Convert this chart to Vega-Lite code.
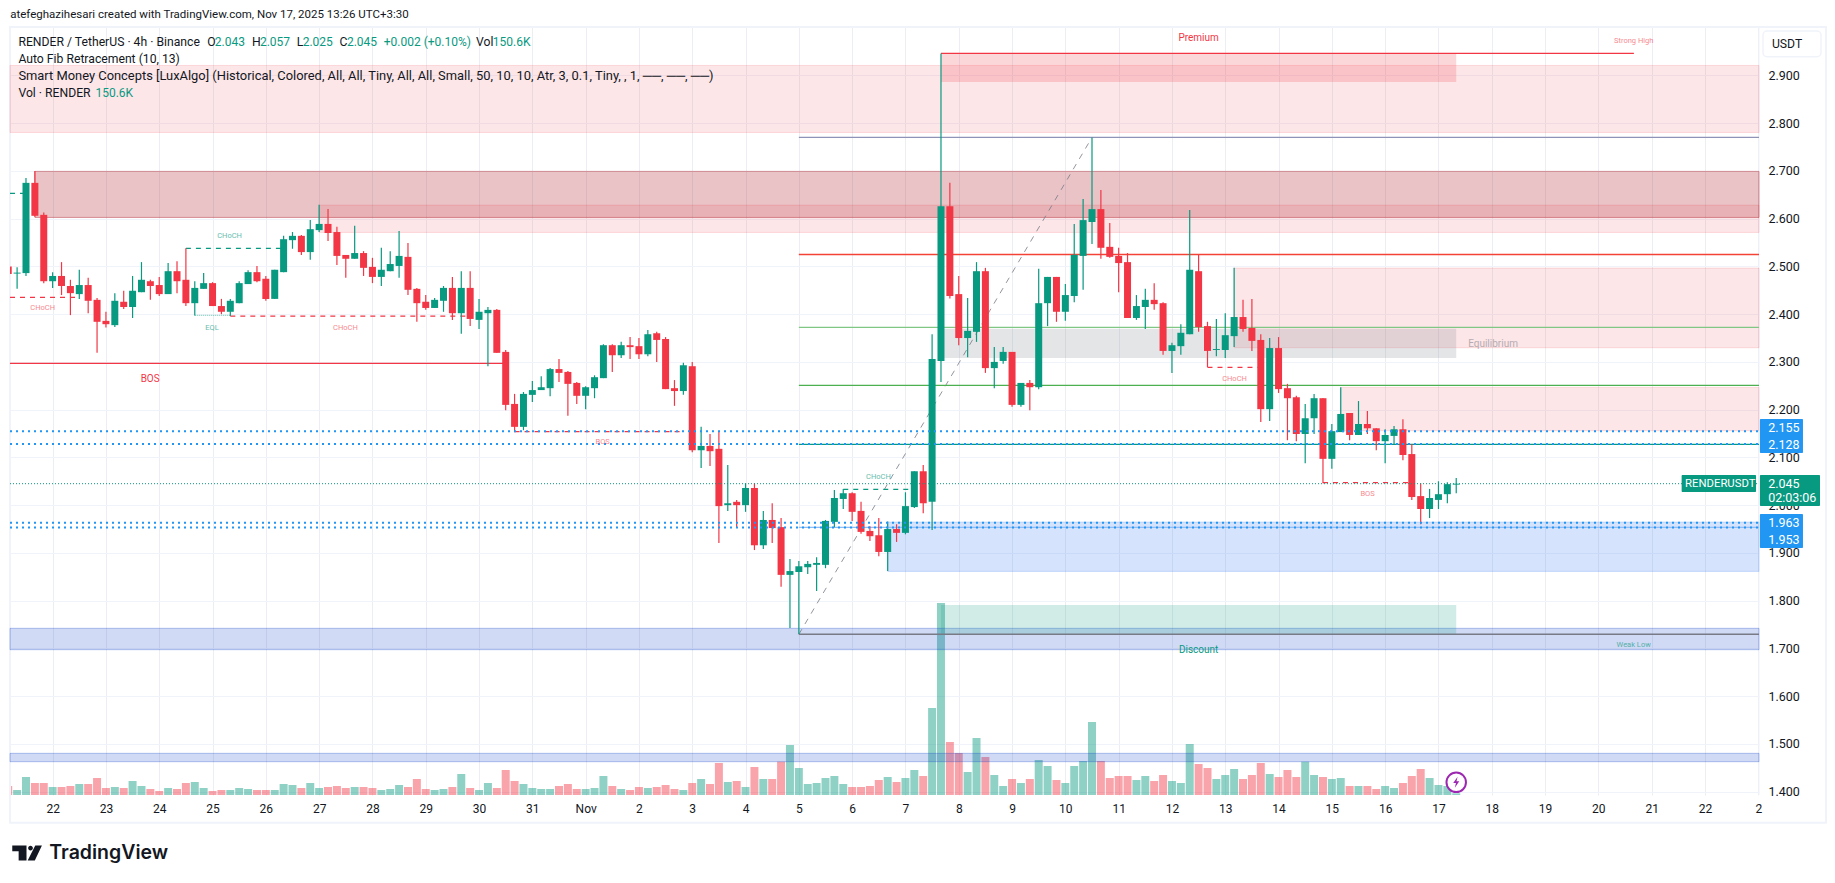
{"$schema":"https://vega.github.io/schema/vega-lite/v6.json","width":1749,"height":768,"autosize":"none","padding":{"left":10,"top":27,"right":76,"bottom":88},"background":"#ffffff","config":{"view":{"stroke":null},"text":{"font":"Roboto"}},"datasets":{"candles":[
{"t":"2025-10-21T07:30Z","o":2.5,"h":2.505,"l":2.48,"c":2.484,"v":810},
{"t":"2025-10-21T11:30Z","o":2.485,"h":2.498,"l":2.453,"c":2.487,"v":450},
{"t":"2025-10-21T15:30Z","o":2.486,"h":2.685,"l":2.48,"c":2.675,"v":1620},
{"t":"2025-10-21T19:30Z","o":2.675,"h":2.7,"l":2.604,"c":2.606,"v":1080},
{"t":"2025-10-21T23:30Z","o":2.608,"h":2.613,"l":2.465,"c":2.469,"v":1080},
{"t":"2025-10-22T03:30Z","o":2.469,"h":2.488,"l":2.455,"c":2.48,"v":720},
{"t":"2025-10-22T07:30Z","o":2.48,"h":2.509,"l":2.44,"c":2.459,"v":720},
{"t":"2025-10-22T11:30Z","o":2.459,"h":2.472,"l":2.398,"c":2.444,"v":810},
{"t":"2025-10-22T15:30Z","o":2.442,"h":2.493,"l":2.432,"c":2.461,"v":990},
{"t":"2025-10-22T19:30Z","o":2.461,"h":2.476,"l":2.402,"c":2.428,"v":990},
{"t":"2025-10-22T23:30Z","o":2.43,"h":2.434,"l":2.319,"c":2.384,"v":1530},
{"t":"2025-10-23T03:30Z","o":2.386,"h":2.405,"l":2.372,"c":2.379,"v":630},
{"t":"2025-10-23T07:30Z","o":2.377,"h":2.444,"l":2.373,"c":2.428,"v":720},
{"t":"2025-10-23T11:30Z","o":2.426,"h":2.449,"l":2.411,"c":2.415,"v":630},
{"t":"2025-10-23T15:30Z","o":2.415,"h":2.48,"l":2.392,"c":2.449,"v":1260},
{"t":"2025-10-23T19:30Z","o":2.446,"h":2.509,"l":2.446,"c":2.472,"v":810},
{"t":"2025-10-23T23:30Z","o":2.469,"h":2.472,"l":2.43,"c":2.459,"v":540},
{"t":"2025-10-24T03:30Z","o":2.461,"h":2.478,"l":2.438,"c":2.442,"v":360},
{"t":"2025-10-24T07:30Z","o":2.442,"h":2.507,"l":2.442,"c":2.49,"v":630},
{"t":"2025-10-24T11:30Z","o":2.49,"h":2.511,"l":2.444,"c":2.469,"v":540},
{"t":"2025-10-24T15:30Z","o":2.472,"h":2.538,"l":2.417,"c":2.423,"v":1080},
{"t":"2025-10-24T19:30Z","o":2.423,"h":2.469,"l":2.397,"c":2.455,"v":1170},
{"t":"2025-10-24T23:30Z","o":2.453,"h":2.486,"l":2.453,"c":2.465,"v":630},
{"t":"2025-10-25T03:30Z","o":2.465,"h":2.467,"l":2.417,"c":2.417,"v":360},
{"t":"2025-10-25T07:30Z","o":2.417,"h":2.432,"l":2.4,"c":2.405,"v":450},
{"t":"2025-10-25T11:30Z","o":2.405,"h":2.432,"l":2.396,"c":2.428,"v":450},
{"t":"2025-10-25T15:30Z","o":2.423,"h":2.469,"l":2.423,"c":2.465,"v":630},
{"t":"2025-10-25T19:30Z","o":2.463,"h":2.492,"l":2.463,"c":2.488,"v":540},
{"t":"2025-10-25T23:30Z","o":2.488,"h":2.501,"l":2.467,"c":2.469,"v":450},
{"t":"2025-10-26T03:30Z","o":2.474,"h":2.48,"l":2.428,"c":2.432,"v":450},
{"t":"2025-10-26T07:30Z","o":2.432,"h":2.493,"l":2.432,"c":2.493,"v":450},
{"t":"2025-10-26T11:30Z","o":2.488,"h":2.564,"l":2.488,"c":2.557,"v":990},
{"t":"2025-10-26T15:30Z","o":2.555,"h":2.572,"l":2.537,"c":2.564,"v":900},
{"t":"2025-10-26T19:30Z","o":2.564,"h":2.566,"l":2.524,"c":2.53,"v":630},
{"t":"2025-10-26T23:30Z","o":2.53,"h":2.597,"l":2.514,"c":2.578,"v":1080},
{"t":"2025-10-27T03:30Z","o":2.576,"h":2.629,"l":2.572,"c":2.589,"v":630},
{"t":"2025-10-27T07:30Z","o":2.589,"h":2.62,"l":2.553,"c":2.57,"v":720},
{"t":"2025-10-27T11:30Z","o":2.572,"h":2.583,"l":2.503,"c":2.522,"v":810},
{"t":"2025-10-27T15:30Z","o":2.524,"h":2.524,"l":2.476,"c":2.516,"v":630},
{"t":"2025-10-27T19:30Z","o":2.516,"h":2.585,"l":2.516,"c":2.528,"v":720},
{"t":"2025-10-27T23:30Z","o":2.528,"h":2.532,"l":2.48,"c":2.497,"v":720},
{"t":"2025-10-28T03:30Z","o":2.499,"h":2.518,"l":2.465,"c":2.478,"v":630},
{"t":"2025-10-28T07:30Z","o":2.478,"h":2.539,"l":2.459,"c":2.493,"v":450},
{"t":"2025-10-28T11:30Z","o":2.49,"h":2.532,"l":2.49,"c":2.505,"v":540},
{"t":"2025-10-28T15:30Z","o":2.501,"h":2.574,"l":2.476,"c":2.522,"v":900},
{"t":"2025-10-28T19:30Z","o":2.52,"h":2.549,"l":2.44,"c":2.451,"v":720},
{"t":"2025-10-28T23:30Z","o":2.453,"h":2.455,"l":2.384,"c":2.423,"v":1440},
{"t":"2025-10-29T03:30Z","o":2.426,"h":2.44,"l":2.409,"c":2.413,"v":540},
{"t":"2025-10-29T07:30Z","o":2.413,"h":2.434,"l":2.413,"c":2.43,"v":450},
{"t":"2025-10-29T11:30Z","o":2.428,"h":2.459,"l":2.405,"c":2.455,"v":540},
{"t":"2025-10-29T15:30Z","o":2.455,"h":2.478,"l":2.388,"c":2.402,"v":720},
{"t":"2025-10-29T19:30Z","o":2.402,"h":2.49,"l":2.359,"c":2.455,"v":1890},
{"t":"2025-10-29T23:30Z","o":2.455,"h":2.49,"l":2.375,"c":2.39,"v":630},
{"t":"2025-10-30T03:30Z","o":2.388,"h":2.432,"l":2.369,"c":2.405,"v":450},
{"t":"2025-10-30T07:30Z","o":2.402,"h":2.415,"l":2.291,"c":2.409,"v":1080},
{"t":"2025-10-30T11:30Z","o":2.409,"h":2.411,"l":2.319,"c":2.319,"v":630},
{"t":"2025-10-30T15:30Z","o":2.321,"h":2.325,"l":2.199,"c":2.21,"v":2250},
{"t":"2025-10-30T19:30Z","o":2.212,"h":2.233,"l":2.153,"c":2.164,"v":1260},
{"t":"2025-10-30T23:30Z","o":2.164,"h":2.237,"l":2.157,"c":2.233,"v":990},
{"t":"2025-10-31T03:30Z","o":2.231,"h":2.26,"l":2.216,"c":2.241,"v":630},
{"t":"2025-10-31T07:30Z","o":2.241,"h":2.27,"l":2.241,"c":2.247,"v":540},
{"t":"2025-10-31T11:30Z","o":2.245,"h":2.287,"l":2.228,"c":2.285,"v":540},
{"t":"2025-10-31T15:30Z","o":2.285,"h":2.306,"l":2.258,"c":2.277,"v":810},
{"t":"2025-10-31T19:30Z","o":2.279,"h":2.281,"l":2.187,"c":2.254,"v":990},
{"t":"2025-10-31T23:30Z","o":2.256,"h":2.258,"l":2.212,"c":2.229,"v":540},
{"t":"2025-11-01T03:30Z","o":2.229,"h":2.249,"l":2.201,"c":2.247,"v":540},
{"t":"2025-11-01T07:30Z","o":2.245,"h":2.272,"l":2.224,"c":2.268,"v":630},
{"t":"2025-11-01T11:30Z","o":2.266,"h":2.337,"l":2.266,"c":2.335,"v":1710},
{"t":"2025-11-01T15:30Z","o":2.335,"h":2.337,"l":2.279,"c":2.314,"v":810},
{"t":"2025-11-01T19:30Z","o":2.314,"h":2.342,"l":2.308,"c":2.335,"v":540},
{"t":"2025-11-01T23:30Z","o":2.335,"h":2.352,"l":2.306,"c":2.331,"v":450},
{"t":"2025-11-02T03:30Z","o":2.333,"h":2.35,"l":2.306,"c":2.316,"v":720},
{"t":"2025-11-02T07:30Z","o":2.316,"h":2.367,"l":2.312,"c":2.358,"v":630},
{"t":"2025-11-02T11:30Z","o":2.36,"h":2.363,"l":2.3,"c":2.346,"v":720},
{"t":"2025-11-02T15:30Z","o":2.348,"h":2.352,"l":2.243,"c":2.243,"v":900},
{"t":"2025-11-02T19:30Z","o":2.245,"h":2.262,"l":2.208,"c":2.239,"v":540},
{"t":"2025-11-02T23:30Z","o":2.239,"h":2.298,"l":2.231,"c":2.293,"v":450},
{"t":"2025-11-03T03:30Z","o":2.291,"h":2.3,"l":2.111,"c":2.115,"v":1080},
{"t":"2025-11-03T07:30Z","o":2.115,"h":2.164,"l":2.078,"c":2.124,"v":1440},
{"t":"2025-11-03T11:30Z","o":2.124,"h":2.149,"l":2.082,"c":2.113,"v":990},
{"t":"2025-11-03T15:30Z","o":2.118,"h":2.155,"l":1.921,"c":1.998,"v":2880},
{"t":"2025-11-03T19:30Z","o":2.0,"h":2.084,"l":1.988,"c":2.004,"v":1170},
{"t":"2025-11-03T23:30Z","o":2.007,"h":2.011,"l":1.952,"c":2.0,"v":1260},
{"t":"2025-11-04T03:30Z","o":2.0,"h":2.046,"l":1.986,"c":2.036,"v":720},
{"t":"2025-11-04T07:30Z","o":2.036,"h":2.046,"l":1.906,"c":1.916,"v":2520},
{"t":"2025-11-04T11:30Z","o":1.916,"h":1.988,"l":1.908,"c":1.969,"v":1440},
{"t":"2025-11-04T15:30Z","o":1.969,"h":2.004,"l":1.921,"c":1.952,"v":1440},
{"t":"2025-11-04T19:30Z","o":1.954,"h":1.973,"l":1.829,"c":1.854,"v":3000},
{"t":"2025-11-04T23:30Z","o":1.854,"h":1.887,"l":1.743,"c":1.862,"v":4500},
{"t":"2025-11-05T03:30Z","o":1.86,"h":1.883,"l":1.73,"c":1.872,"v":2430},
{"t":"2025-11-05T07:30Z","o":1.87,"h":1.883,"l":1.856,"c":1.877,"v":990},
{"t":"2025-11-05T11:30Z","o":1.875,"h":1.891,"l":1.82,"c":1.879,"v":1080},
{"t":"2025-11-05T15:30Z","o":1.875,"h":1.969,"l":1.868,"c":1.967,"v":1530},
{"t":"2025-11-05T19:30Z","o":1.965,"h":2.032,"l":1.954,"c":2.015,"v":1710},
{"t":"2025-11-05T23:30Z","o":2.013,"h":2.034,"l":1.992,"c":2.025,"v":990},
{"t":"2025-11-06T03:30Z","o":2.025,"h":2.027,"l":1.967,"c":1.986,"v":720},
{"t":"2025-11-06T07:30Z","o":1.988,"h":2.007,"l":1.94,"c":1.944,"v":720},
{"t":"2025-11-06T11:30Z","o":1.946,"h":1.956,"l":1.925,"c":1.935,"v":810},
{"t":"2025-11-06T15:30Z","o":1.937,"h":1.973,"l":1.893,"c":1.902,"v":1350},
{"t":"2025-11-06T19:30Z","o":1.902,"h":1.966,"l":1.862,"c":1.95,"v":1620},
{"t":"2025-11-06T23:30Z","o":1.95,"h":1.96,"l":1.923,"c":1.942,"v":1170},
{"t":"2025-11-07T03:30Z","o":1.942,"h":2.027,"l":1.939,"c":1.998,"v":1530},
{"t":"2025-11-07T07:30Z","o":1.996,"h":2.071,"l":1.994,"c":2.071,"v":2250},
{"t":"2025-11-07T11:30Z","o":2.071,"h":2.084,"l":1.983,"c":2.004,"v":1710},
{"t":"2025-11-07T15:30Z","o":2.007,"h":2.358,"l":1.948,"c":2.306,"v":7830},
{"t":"2025-11-07T19:30Z","o":2.302,"h":2.946,"l":2.258,"c":2.626,"v":17280},
{"t":"2025-11-07T23:30Z","o":2.626,"h":2.675,"l":2.433,"c":2.438,"v":4770},
{"t":"2025-11-08T03:30Z","o":2.442,"h":2.48,"l":2.335,"c":2.35,"v":3780},
{"t":"2025-11-08T07:30Z","o":2.35,"h":2.434,"l":2.31,"c":2.365,"v":2070},
{"t":"2025-11-08T11:30Z","o":2.363,"h":2.509,"l":2.342,"c":2.49,"v":5130},
{"t":"2025-11-08T15:30Z","o":2.49,"h":2.497,"l":2.277,"c":2.287,"v":3420},
{"t":"2025-11-08T19:30Z","o":2.287,"h":2.331,"l":2.245,"c":2.3,"v":1800},
{"t":"2025-11-08T23:30Z","o":2.302,"h":2.331,"l":2.296,"c":2.321,"v":810},
{"t":"2025-11-09T03:30Z","o":2.321,"h":2.321,"l":2.206,"c":2.21,"v":1440},
{"t":"2025-11-09T07:30Z","o":2.21,"h":2.256,"l":2.206,"c":2.256,"v":1080},
{"t":"2025-11-09T11:30Z","o":2.256,"h":2.262,"l":2.199,"c":2.247,"v":1440},
{"t":"2025-11-09T15:30Z","o":2.247,"h":2.495,"l":2.243,"c":2.423,"v":3150},
{"t":"2025-11-09T19:30Z","o":2.423,"h":2.478,"l":2.375,"c":2.478,"v":2610},
{"t":"2025-11-09T23:30Z","o":2.478,"h":2.478,"l":2.384,"c":2.405,"v":1350},
{"t":"2025-11-10T03:30Z","o":2.405,"h":2.463,"l":2.386,"c":2.44,"v":1080},
{"t":"2025-11-10T07:30Z","o":2.438,"h":2.589,"l":2.425,"c":2.524,"v":2610},
{"t":"2025-11-10T11:30Z","o":2.522,"h":2.641,"l":2.451,"c":2.597,"v":3060},
{"t":"2025-11-10T15:30Z","o":2.593,"h":2.77,"l":2.547,"c":2.62,"v":6570},
{"t":"2025-11-10T19:30Z","o":2.62,"h":2.66,"l":2.516,"c":2.539,"v":3060},
{"t":"2025-11-10T23:30Z","o":2.541,"h":2.591,"l":2.518,"c":2.52,"v":1530},
{"t":"2025-11-11T03:30Z","o":2.522,"h":2.539,"l":2.446,"c":2.507,"v":1710},
{"t":"2025-11-11T07:30Z","o":2.509,"h":2.528,"l":2.392,"c":2.392,"v":1710},
{"t":"2025-11-11T11:30Z","o":2.392,"h":2.44,"l":2.388,"c":2.417,"v":1350},
{"t":"2025-11-11T15:30Z","o":2.415,"h":2.453,"l":2.369,"c":2.43,"v":1710},
{"t":"2025-11-11T19:30Z","o":2.43,"h":2.465,"l":2.409,"c":2.421,"v":1260},
{"t":"2025-11-11T23:30Z","o":2.423,"h":2.425,"l":2.315,"c":2.323,"v":1800},
{"t":"2025-11-12T03:30Z","o":2.323,"h":2.34,"l":2.277,"c":2.335,"v":1260},
{"t":"2025-11-12T07:30Z","o":2.333,"h":2.379,"l":2.315,"c":2.361,"v":1080},
{"t":"2025-11-12T11:30Z","o":2.358,"h":2.618,"l":2.358,"c":2.493,"v":4590},
{"t":"2025-11-12T15:30Z","o":2.49,"h":2.524,"l":2.363,"c":2.373,"v":2790},
{"t":"2025-11-12T19:30Z","o":2.375,"h":2.384,"l":2.289,"c":2.323,"v":2430},
{"t":"2025-11-12T23:30Z","o":2.325,"h":2.39,"l":2.312,"c":2.327,"v":1440},
{"t":"2025-11-13T03:30Z","o":2.325,"h":2.402,"l":2.308,"c":2.356,"v":1800},
{"t":"2025-11-13T07:30Z","o":2.354,"h":2.497,"l":2.331,"c":2.394,"v":2340},
{"t":"2025-11-13T11:30Z","o":2.394,"h":2.43,"l":2.363,"c":2.369,"v":1440},
{"t":"2025-11-13T15:30Z","o":2.371,"h":2.432,"l":2.323,"c":2.344,"v":1800},
{"t":"2025-11-13T19:30Z","o":2.346,"h":2.358,"l":2.174,"c":2.201,"v":2880},
{"t":"2025-11-13T23:30Z","o":2.201,"h":2.35,"l":2.176,"c":2.329,"v":1890},
{"t":"2025-11-14T03:30Z","o":2.329,"h":2.352,"l":2.235,"c":2.243,"v":1620},
{"t":"2025-11-14T07:30Z","o":2.245,"h":2.254,"l":2.136,"c":2.224,"v":2250},
{"t":"2025-11-14T11:30Z","o":2.226,"h":2.229,"l":2.134,"c":2.149,"v":1620},
{"t":"2025-11-14T15:30Z","o":2.149,"h":2.212,"l":2.088,"c":2.182,"v":3000},
{"t":"2025-11-14T19:30Z","o":2.182,"h":2.233,"l":2.149,"c":2.224,"v":1800},
{"t":"2025-11-14T23:30Z","o":2.224,"h":2.224,"l":2.046,"c":2.097,"v":1620},
{"t":"2025-11-15T03:30Z","o":2.097,"h":2.17,"l":2.076,"c":2.155,"v":1440},
{"t":"2025-11-15T07:30Z","o":2.153,"h":2.247,"l":2.153,"c":2.191,"v":1530},
{"t":"2025-11-15T11:30Z","o":2.193,"h":2.193,"l":2.136,"c":2.147,"v":810},
{"t":"2025-11-15T15:30Z","o":2.147,"h":2.218,"l":2.147,"c":2.17,"v":810},
{"t":"2025-11-15T19:30Z","o":2.17,"h":2.197,"l":2.149,"c":2.161,"v":810},
{"t":"2025-11-15T23:30Z","o":2.161,"h":2.161,"l":2.115,"c":2.134,"v":540},
{"t":"2025-11-16T03:30Z","o":2.134,"h":2.159,"l":2.088,"c":2.147,"v":810},
{"t":"2025-11-16T07:30Z","o":2.145,"h":2.166,"l":2.128,"c":2.159,"v":630},
{"t":"2025-11-16T11:30Z","o":2.159,"h":2.18,"l":2.094,"c":2.105,"v":1080},
{"t":"2025-11-16T15:30Z","o":2.107,"h":2.128,"l":2.011,"c":2.017,"v":1710},
{"t":"2025-11-16T19:30Z","o":2.019,"h":2.046,"l":1.96,"c":1.992,"v":2340},
{"t":"2025-11-16T23:30Z","o":1.992,"h":2.034,"l":1.973,"c":2.015,"v":1530},
{"t":"2025-11-17T03:30Z","o":2.011,"h":2.05,"l":1.992,"c":2.023,"v":900},
{"t":"2025-11-17T07:30Z","o":2.023,"h":2.048,"l":2.004,"c":2.044,"v":810},
{"t":"2025-11-17T11:30Z","o":2.043,"h":2.057,"l":2.025,"c":2.045,"v":150.6}
]},"encoding":{"x":{"field":"t","type":"temporal","title":null,"scale":{"type":"utc","padding":0,"domain":["2025-10-21T08:18Z","2025-11-23T03:50Z"]},"axis":{"values":["2025-10-22T03:30Z","2025-10-23T03:30Z","2025-10-24T03:30Z","2025-10-25T03:30Z","2025-10-26T03:30Z","2025-10-27T03:30Z","2025-10-28T03:30Z","2025-10-29T03:30Z","2025-10-30T03:30Z","2025-10-31T03:30Z","2025-11-01T03:30Z","2025-11-02T03:30Z","2025-11-03T03:30Z","2025-11-04T03:30Z","2025-11-05T03:30Z","2025-11-06T03:30Z","2025-11-07T03:30Z","2025-11-08T03:30Z","2025-11-09T03:30Z","2025-11-10T03:30Z","2025-11-11T03:30Z","2025-11-12T03:30Z","2025-11-13T03:30Z","2025-11-14T03:30Z","2025-11-15T03:30Z","2025-11-16T03:30Z","2025-11-17T03:30Z","2025-11-18T03:30Z","2025-11-19T03:30Z","2025-11-20T03:30Z","2025-11-21T03:30Z","2025-11-22T03:30Z","2025-11-23T03:30Z"],"labelExpr":"utcFormat(datum.value,'%m%d')=='1101'?'Nov':utcFormat(datum.value,'%m%d')=='1123'?'2':utcFormat(datum.value,'%-d')","labelAlign":{"expr":"datum.label=='2'?'right':'center'"},"labelOverlap":false,"labelFlush":false,"labelFont":"Roboto","labelFontSize":12,"labelColor":"#131722","labelPadding":8,"domain":false,"ticks":false,"grid":true,"gridColor":"#eceef3","gridWidth":1}}},"resolve":{"scale":{"y":"independent"}},"layer":[
{"data":{"name":"candles"},"mark":{"type":"bar","width":8,"clip":true,"opacity":0.45},"encoding":{"y":{"field":"v","type":"quantitative","scale":{"domain":[0,69120]},"axis":null},"color":{"condition":{"test":"datum.c>=datum.o","value":"#089981"},"value":"#f23645"}}},
{"encoding":{"y":{"field":"p","type":"quantitative","title":null,"scale":{"domain":[1.393,3.0014]},"axis":{"orient":"right","values":[1.4,1.5,1.6,1.7,1.8,1.9,2.0,2.1,2.2,2.3,2.4,2.5,2.6,2.7,2.8,2.9],"format":".3f","labelFont":"Roboto","labelFontSize":12.5,"labelColor":"#131722","labelPadding":9,"domain":false,"ticks":false,"grid":true,"gridColor":"#f0f3fa","title":null}}},"layer":[
{"data":{"values":[{"t":"2025-10-21T08:18Z","t2":"2025-11-24T10:00Z","p":3.0014,"p2":1.335}]},"mark":{"type":"rect","fill":null,"stroke":"#f0f3fa","strokeWidth":2},"encoding":{"x2":{"field":"t2"},"y2":{"field":"p2"}}},
{"data":{"values":[{"t":"2025-11-23T03:50Z","p":3.0014,"p2":1.393}]},"mark":{"type":"rule","color":"#f0f3fa","strokeWidth":1},"encoding":{"y2":{"field":"p2"}}},
{"data":{"values":[{"name":"upper supply","t":"2025-10-21T08:18Z","t2":"2025-11-23T03:50Z","p":2.9209,"p2":2.7806},{"name":"swing supply","t":"2025-10-27T03:30Z","t2":"2025-11-23T03:50Z","p":2.6284,"p2":2.5712},{"name":"nov 13 supply","t":"2025-11-13T07:30Z","t2":"2025-11-23T03:50Z","p":2.4965,"p2":2.3297},{"name":"nov 15 supply","t":"2025-11-15T07:30Z","t2":"2025-11-23T03:50Z","p":2.2466,"p2":2.1559}]},"mark":{"type":"rect","fill":"#f23645","fillOpacity":0.125,"stroke":"#f23645","strokeOpacity":0.15,"strokeWidth":1},"encoding":{"x2":{"field":"t2"},"y2":{"field":"p2"}}},
{"data":{"values":[{"t":"2025-10-21T19:30Z","t2":"2025-11-23T03:50Z","p":2.699,"p2":2.6026}]},"mark":{"type":"rect","fill":"#b22833","fillOpacity":0.28,"stroke":"#b22833","strokeOpacity":0.45,"strokeWidth":1},"encoding":{"x2":{"field":"t2"},"y2":{"field":"p2"}}},
{"data":{"values":[{"t":"2025-11-06T19:30Z","t2":"2025-11-23T03:50Z","p":1.9646,"p2":1.8613}]},"mark":{"type":"rect","fill":"#2d73f0","fillOpacity":0.2,"stroke":"#2d73f0","strokeOpacity":0.2,"strokeWidth":1},"encoding":{"x2":{"field":"t2"},"y2":{"field":"p2"}}},
{"data":{"values":[{"t":"2025-10-21T08:18Z","t2":"2025-11-23T03:50Z","p":1.7421,"p2":1.6973},{"t":"2025-10-21T08:18Z","t2":"2025-11-23T03:50Z","p":1.4803,"p2":1.4627}]},"mark":{"type":"rect","fill":"#1848cc","fillOpacity":0.2,"stroke":"#1848cc","strokeOpacity":0.3,"strokeWidth":1},"encoding":{"x2":{"field":"t2"},"y2":{"field":"p2"}}},
{"data":{"values":[{"t":"2025-11-07T19:30Z","t2":"2025-11-17T11:30Z","p":2.9461,"p2":2.886}]},"mark":{"type":"rect","fill":"#f23645","fillOpacity":0.2},"encoding":{"x2":{"field":"t2"},"y2":{"field":"p2"}}},
{"data":{"values":[{"t":"2025-11-07T19:30Z","t2":"2025-11-17T11:30Z","p":2.3695,"p2":2.308}]},"mark":{"type":"rect","fill":"#787b86","fillOpacity":0.2},"encoding":{"x2":{"field":"t2"},"y2":{"field":"p2"}}},
{"data":{"values":[{"t":"2025-11-07T19:30Z","t2":"2025-11-17T11:30Z","p":1.7908,"p2":1.7295}]},"mark":{"type":"rect","fill":"#089981","fillOpacity":0.19},"encoding":{"x2":{"field":"t2"},"y2":{"field":"p2"}}},
{"data":{"values":[{"t":"2025-11-05T03:30Z","t2":"2025-11-10T15:30Z","p":1.7295,"p2":2.7702}]},"mark":{"type":"rule","color":"#787b86","strokeWidth":1,"strokeDash":[6,6],"opacity":0.8},"encoding":{"x2":{"field":"t2"},"y2":{"field":"p2"}}},
{"data":{"values":[{"level":"1","t":"2025-11-05T03:30Z","t2":"2025-11-23T03:50Z","p":2.7702},{"level":"0.786","t":"2025-11-05T03:30Z","t2":"2025-11-23T03:50Z","p":2.5251},{"level":"0.618","t":"2025-11-05T03:30Z","t2":"2025-11-23T03:50Z","p":2.3723},{"level":"0.5","t":"2025-11-05T03:30Z","t2":"2025-11-23T03:50Z","p":2.2508},{"level":"0.382","t":"2025-11-05T03:30Z","t2":"2025-11-23T03:50Z","p":2.1272},{"level":"0","t":"2025-11-05T03:30Z","t2":"2025-11-23T03:50Z","p":1.7295},{"level":"fvg","t":"2025-11-05T03:30Z","t2":"2025-11-23T03:50Z","p":1.9534}]},"mark":{"type":"rule","strokeWidth":1.4},"encoding":{"x2":{"field":"t2"},"color":{"field":"level","type":"nominal","legend":null,"scale":{"domain":["1","0.786","0.618","0.5","0.382","0","fvg"],"range":["#8f93b8","#f44336","#81c784","#4caf50","#089981","#787b86","#90bdf7"]}}}},
{"data":{"values":[{"t":"2025-11-07T19:30Z","t2":"2025-11-20T19:30Z","p":2.9461},{"t":"2025-10-21T08:18Z","t2":"2025-10-30T15:30Z","p":2.2969}]},"mark":{"type":"rule","color":"#f23645","strokeWidth":1.4},"encoding":{"x2":{"field":"t2"}}},
{"data":{"values":[{"t":"2025-10-21T08:18Z","t2":"2025-10-22T15:30Z","p":2.4352},{"t":"2025-10-25T11:30Z","t2":"2025-10-29T23:30Z","p":2.396},{"t":"2025-10-30T19:30Z","t2":"2025-11-02T23:30Z","p":2.1538},{"t":"2025-11-12T19:30Z","t2":"2025-11-13T19:30Z","p":2.2885},{"t":"2025-11-14T23:30Z","t2":"2025-11-16T15:30Z","p":2.047}]},"mark":{"type":"rule","color":"#f23645","strokeWidth":1.2,"strokeDash":[5,5]},"encoding":{"x2":{"field":"t2"}}},
{"data":{"values":[{"t":"2025-10-21T08:18Z","t2":"2025-10-21T15:30Z","p":2.653},{"t":"2025-10-24T15:30Z","t2":"2025-10-26T11:30Z","p":2.5378},{"t":"2025-11-05T23:30Z","t2":"2025-11-07T07:30Z","p":2.033}]},"mark":{"type":"rule","color":"#089981","strokeWidth":1.2,"strokeDash":[5,5]},"encoding":{"x2":{"field":"t2"}}},
{"data":{"values":[{"t":"2025-10-24T19:30Z","t2":"2025-10-25T11:30Z","p":2.3975}]},"mark":{"type":"rule","color":"#089981","strokeWidth":1.2,"strokeDash":[1,1],"opacity":0.5},"encoding":{"x2":{"field":"t2"}}},
{"data":{"name":"candles"},"mark":{"type":"rule","strokeWidth":1.2,"clip":true},"encoding":{"y":{"field":"l","type":"quantitative","title":null,"scale":{"domain":[1.393,3.0014]}},"y2":{"field":"h"},"color":{"condition":{"test":"datum.c>=datum.o","value":"#089981"},"value":"#f23645"}}},
{"data":{"name":"candles"},"mark":{"type":"bar","width":7,"clip":true},"encoding":{"y":{"field":"o","type":"quantitative","title":null,"scale":{"domain":[1.393,3.0014]}},"y2":{"field":"c"},"color":{"condition":{"test":"datum.c>=datum.o","value":"#089981"},"value":"#f23645"}}},
{"data":{"values":[{"name":"2.155","t":"2025-10-21T08:18Z","t2":"2025-11-23T03:50Z","p":2.155},{"name":"2.128","t":"2025-10-21T08:18Z","t2":"2025-11-23T03:50Z","p":2.128},{"name":"1.963","t":"2025-10-21T08:18Z","t2":"2025-11-23T03:50Z","p":1.963},{"name":"1.953","t":"2025-10-21T08:18Z","t2":"2025-11-23T03:50Z","p":1.953}]},"mark":{"type":"rule","color":"#2196f3","strokeWidth":2,"strokeDash":[2,4]},"encoding":{"x2":{"field":"t2"}}},
{"data":{"values":[{"t":"2025-10-21T08:18Z","t2":"2025-11-23T03:50Z","p":2.045}]},"mark":{"type":"rule","color":"#089981","strokeWidth":1,"strokeDash":[1,2]},"encoding":{"x2":{"field":"t2"}}},
{"data":{"values":[{"t":"2025-11-23T04:15Z","t2":"2025-11-23T23:38Z","p":2.1803,"p2":2.1091},{"t":"2025-11-23T04:15Z","t2":"2025-11-23T23:38Z","p":1.9813,"p2":1.9101}]},"mark":{"type":"rect","fill":"#2196f3","cornerRadius":1},"encoding":{"x2":{"field":"t2"},"y2":{"field":"p2"}}},
{"data":{"values":[{"t":"2025-11-23T04:15Z","t2":"2025-11-24T07:18Z","p":2.063,"p2":1.9981},{"t":"2025-11-21T17:00Z","t2":"2025-11-23T02:30Z","p":2.063,"p2":2.0274}]},"mark":{"type":"rect","fill":"#089981","cornerRadius":1},"encoding":{"x2":{"field":"t2"},"y2":{"field":"p2"}}},
{"data":{"values":[{"t":"2025-11-23T05:38Z","t2":"2025-11-24T07:45Z","p":2.9928,"p2":2.9391}]},"mark":{"type":"rect","fill":"#ffffff","stroke":"#f0f3fa","strokeWidth":1.5,"cornerRadius":4},"encoding":{"x2":{"field":"t2"},"y2":{"field":"p2"}}},
{"data":{"values":[{"text":"2.155","t":"2025-11-23T07:58Z","p":2.1621},{"text":"2.128","t":"2025-11-23T07:58Z","p":2.1265},{"text":"1.963","t":"2025-11-23T07:58Z","p":1.9632},{"text":"1.953","t":"2025-11-23T07:58Z","p":1.9276},{"text":"2.045","t":"2025-11-23T07:58Z","p":2.0449},{"text":"02:03:06","t":"2025-11-23T07:58Z","p":2.0155}]},"mark":{"type":"text","align":"left","baseline":"middle","fontSize":12.5,"font":"Roboto","color":"#ffffff"},"encoding":{"text":{"field":"text"}}},
{"data":{"values":[{"text":"RENDERUSDT","t":"2025-11-21T18:34Z","p":2.0449}]},"mark":{"type":"text","align":"left","baseline":"middle","fontSize":11.3,"font":"Roboto","color":"#ffffff"},"encoding":{"text":{"field":"text"}}},
{"data":{"values":[{"text":"USDT","t":"2025-11-23T09:40Z","p":2.9649},{"text":"RENDER / TetherUS · 4h · Binance","t":"2025-10-21T12:05Z","p":2.9706},{"text":"O","t":"2025-10-25T01:10Z","p":2.9706},{"text":"H","t":"2025-10-25T21:17Z","p":2.9706},{"text":"L","t":"2025-10-26T17:25Z","p":2.9706},{"text":"C","t":"2025-10-27T12:39Z","p":2.9706},{"text":"Vol","t":"2025-10-30T02:11Z","p":2.9706},{"text":"Auto Fib Retracement (10, 13)","t":"2025-10-21T12:05Z","p":2.9343},{"text":"Vol · RENDER","t":"2025-10-21T12:05Z","p":2.8638}]},"mark":{"type":"text","align":"left","baseline":"middle","fontSize":12.2,"font":"Roboto","color":"#131722"},"encoding":{"text":{"field":"text"}}},
{"data":{"values":[{"text":"Smart Money Concepts [LuxAlgo] (Historical, Colored, All, All, Tiny, All, All, Small, 50, 10, 10, Atr, 3, 0.1, Tiny, , 1, ──, ──, ──)","t":"2025-10-21T12:05Z","p":2.8987}]},"mark":{"type":"text","align":"left","baseline":"middle","fontSize":12.9,"font":"Roboto","color":"#131722"},"encoding":{"text":{"field":"text"}}},
{"data":{"values":[{"text":"atefeghazihesari created with TradingView.com, Nov 17, 2025 13:26 UTC+3:30","t":"2025-10-21T08:23Z","p":3.0271}]},"mark":{"type":"text","align":"left","baseline":"middle","fontSize":11.5,"font":"Roboto","color":"#131722"},"encoding":{"text":{"field":"text"}}},
{"data":{"values":[{"text":"2.043","t":"2025-10-25T04:33Z","p":2.9706},{"text":"2.057","t":"2025-10-26T00:51Z","p":2.9706},{"text":"2.025","t":"2025-10-26T20:05Z","p":2.9706},{"text":"2.045","t":"2025-10-27T16:01Z","p":2.9706},{"text":"+0.002 (+0.10%)","t":"2025-10-28T08:35Z","p":2.9706},{"text":"150.6K","t":"2025-10-30T09:41Z","p":2.9706},{"text":"150.6K","t":"2025-10-22T22:47Z","p":2.8638}]},"mark":{"type":"text","align":"left","baseline":"middle","fontSize":12,"font":"Roboto","color":"#089981"},"encoding":{"text":{"field":"text"}}},
{"data":{"values":[{"text":"CHoCH","t":"2025-10-21T23:00Z","p":2.412},{"text":"CHoCH","t":"2025-10-27T15:20Z","p":2.3716},{"text":"BOS","t":"2025-11-01T11:10Z","p":2.1314},{"text":"CHoCH","t":"2025-11-13T07:40Z","p":2.2634},{"text":"BOS","t":"2025-11-15T19:35Z","p":2.0239},{"text":"Strong High","t":"2025-11-20T19:25Z","p":2.9727}]},"mark":{"type":"text","align":"center","baseline":"middle","fontSize":7.5,"font":"Roboto","color":"#f23645","opacity":0.6},"encoding":{"text":{"field":"text"}}},
{"data":{"values":[{"text":"CHoCH","t":"2025-10-25T11:10Z","p":2.563},{"text":"EQL","t":"2025-10-25T03:15Z","p":2.3717},{"text":"CHoCH","t":"2025-11-06T15:20Z","p":2.0595},{"text":"Weak Low","t":"2025-11-20T19:25Z","p":1.7065}]},"mark":{"type":"text","align":"center","baseline":"middle","fontSize":7.5,"font":"Roboto","color":"#089981","opacity":0.65},"encoding":{"text":{"field":"text"}}},
{"data":{"values":[{"text":"BOS","t":"2025-10-23T23:25Z","p":2.2648},{"text":"Premium","t":"2025-11-12T15:30Z","p":2.979}]},"mark":{"type":"text","align":"center","baseline":"middle","fontSize":10,"font":"Roboto","color":"#f23645"},"encoding":{"text":{"field":"text"}}},
{"data":{"values":[{"text":"Discount","t":"2025-11-12T15:30Z","p":1.6973}]},"mark":{"type":"text","align":"center","baseline":"middle","fontSize":10,"font":"Roboto","color":"#089981"},"encoding":{"text":{"field":"text"}}},
{"data":{"values":[{"text":"Equilibrium","t":"2025-11-18T04:05Z","p":2.338}]},"mark":{"type":"text","align":"center","baseline":"middle","fontSize":10,"font":"Roboto","color":"#787b86","opacity":0.55},"encoding":{"text":{"field":"text"}}},
{"data":{"values":[{"t":"2025-11-17T11:30Z","p":1.4196}]},"mark":{"type":"point","shape":"circle","size":380,"filled":true,"fill":"#ffffff","stroke":"#9c27b0","strokeWidth":2,"opacity":1}},
{"data":{"values":[{"t":"2025-11-17T11:30Z","p":1.4196}]},"mark":{"type":"point","shape":"M.25,-1L-.55,.15H-.05L-.25,1L.55,-.2H.05Z","size":120,"filled":true,"color":"#9c27b0","opacity":1}},
{"data":{"values":[{"t":"2025-10-21T16:00Z","p":1.2715}]},"mark":{"type":"point","shape":"M-1,-.5H-.04V.5H-.57V-.12H-1Z M.23,-.49A.16,.16 0 1 0 .23,-.17A.16,.16 0 1 0 .23,-.49Z M.55,-.5H1L.52,.5H.04Z","size":880,"filled":true,"color":"#131722","opacity":1}},
{"data":{"values":[{"text":"TradingView","t":"2025-10-22T02:00Z","p":1.2715}]},"mark":{"type":"text","align":"left","baseline":"middle","fontSize":19.5,"font":"Inter","fontWeight":600,"color":"#131722"},"encoding":{"text":{"field":"text"}}}
]}]}
